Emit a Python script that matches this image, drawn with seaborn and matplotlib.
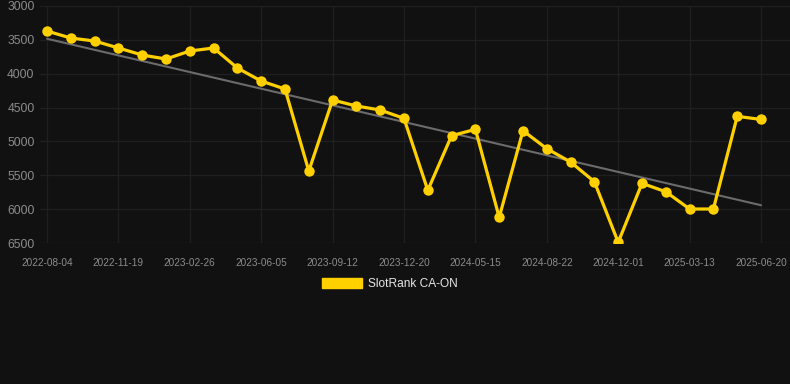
import matplotlib
matplotlib.use("Agg")
import matplotlib.pyplot as plt
import matplotlib.patches as mpatches
import seaborn as sns
import numpy as np
import pandas as pd

dates = ["2022-08-04", "2022-09-08", "2022-10-14", "2022-11-19", "2022-12-24", "2023-01-29",
         "2023-02-26", "2023-04-01", "2023-05-03", "2023-06-05", "2023-07-08", "2023-08-10",
         "2023-09-12", "2023-10-15", "2023-11-17", "2023-12-20", "2024-02-07", "2024-03-27",
         "2024-05-15", "2024-06-20", "2024-07-21", "2024-08-22", "2024-09-25", "2024-10-28",
         "2024-12-01", "2025-01-06", "2025-02-08", "2025-03-13", "2025-04-15", "2025-05-18",
         "2025-06-20"]
ranks = [3370, 3473, 3517, 3620, 3724, 3783, 3665, 3620, 3916, 4108, 4226, 5437,
         4388, 4477, 4536, 4660, 5722, 4915, 4822, 6121, 4841, 5107, 5304, 5595,
         6490, 5619, 5743, 5998, 5998, 4630, 4675]
yticks = [3000, 3500, 4000, 4500, 5000, 5500, 6000, 6500]
series_name = "SlotRank CA-ON"

bg = "#111111"
gold = "#FFD000"
grid = "#1f1f1f"
txt = "#8c8c8c"

df = pd.DataFrame({"idx": np.arange(len(dates)), "rank": ranks})

sns.set_style("dark")
plt.rcParams["font.family"] = ["Liberation Sans", "DejaVu Sans"]
fig = plt.figure(figsize=(7.9, 3.84), dpi=100, facecolor=bg)
ax = fig.add_axes([40/790, 1-243/384, 1-40/790, 237/384])
ax.set_facecolor(bg)

sns.regplot(data=df, x="idx", y="rank", scatter=False, ci=None, ax=ax,
            line_kws=dict(color="#6b6b6b", lw=1.5))
sns.lineplot(data=df, x="idx", y="rank", ax=ax, color=gold, lw=2.3,
             marker="o", markersize=7.5, markeredgewidth=0, markerfacecolor=gold)

ax.set_ylim(6500, 3000)
ax.set_xlim(-7/23.8, 30 + 29/23.8)
ax.set_yticks(yticks)
ax.set_yticklabels([str(v) for v in yticks], color=txt, fontsize=8.7)
tick_idx = list(range(0, len(dates), 3))
ax.set_xticks(tick_idx)
ax.set_xticklabels([dates[i] for i in tick_idx], color=txt, fontsize=7.2)
ax.tick_params(axis="x", length=8, color=grid, width=1, pad=3)
ax.tick_params(axis="y", length=0, pad=4)
ax.grid(True, color=grid, lw=1)
ax.set_xlabel("")
ax.set_ylabel("")
for s in ax.spines.values():
    s.set_visible(False)

handle = mpatches.Patch(color=gold, label=series_name)
fig.legend(handles=[handle], loc="center", bbox_to_anchor=(390/790, 1-284/384),
           frameon=False, fontsize=8.6, labelcolor="#e6e6e6",
           handlelength=3.35, handleheight=1.0, handletextpad=0.55)

fig.savefig("out.png", dpi=100, facecolor=bg)
